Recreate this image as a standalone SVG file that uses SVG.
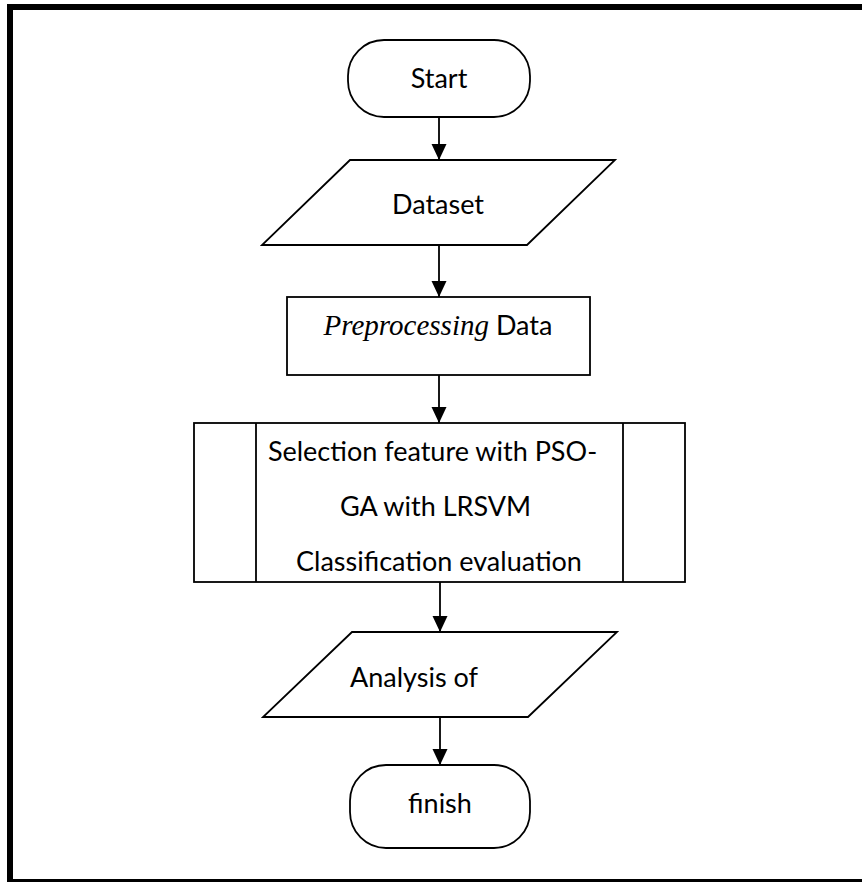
<svg xmlns="http://www.w3.org/2000/svg" width="862" height="882" viewBox="0 0 862 882">
  <defs>
    <marker id="arrow" markerUnits="userSpaceOnUse" markerWidth="16" markerHeight="16" refX="16" refY="7.5" orient="auto">
      <path d="M0,0 L16,7.5 L0,15 Z" fill="#000"/>
    </marker>
    <style>
      .shape { fill: #fff; stroke: #000; stroke-width: 1.8; }
      .label { font-family: Lato, "Liberation Sans", sans-serif; font-size: 27px; fill: #000; }
      .serif { font-family: "Liberation Serif", serif; font-style: italic; }
      .edge { stroke: #000; stroke-width: 1.8; fill: none; marker-end: url(#arrow); }
    </style>
  </defs>
  <rect width="862" height="882" fill="#fff"/>
  <!-- page frame -->
  <rect x="10" y="7" width="860" height="875" fill="none" stroke="#000" stroke-width="6"/>

  <g id="connectors">
    <line class="edge" x1="439" y1="117" x2="439" y2="160"/>
    <line class="edge" x1="439" y1="245" x2="439" y2="297"/>
    <line class="edge" x1="439" y1="375" x2="439" y2="423"/>
    <line class="edge" x1="440" y1="582" x2="440" y2="632"/>
    <line class="edge" x1="440" y1="717" x2="440" y2="765"/>
  </g>

  <g id="start">
    <rect class="shape" x="348" y="40" width="182" height="77" rx="36" ry="36"/>
    <text class="label" x="439" y="88" text-anchor="middle">Start</text>
  </g>

  <g id="dataset">
    <polygon class="shape" points="350,160 615,160 527,245 262,245"/>
    <text class="label" x="438" y="214" text-anchor="middle">Dataset</text>
  </g>

  <g id="preprocessing">
    <rect class="shape" x="287" y="297" width="303" height="78"/>
    <text class="label" x="438" y="335" text-anchor="middle"><tspan class="serif" font-size="29">Preprocessing</tspan> Data</text>
  </g>

  <g id="selection">
    <rect class="shape" x="194" y="423" width="491" height="159"/>
    <line class="shape" x1="256" y1="423" x2="256" y2="582"/>
    <line class="shape" x1="623" y1="423" x2="623" y2="582"/>
    <text class="label" text-anchor="middle">
      <tspan x="436" y="461">Selection feature with PSO-</tspan>
      <tspan x="439" y="516">GA with LRSVM</tspan>
      <tspan x="439" y="571">Classification evaluation</tspan>
    </text>
  </g>

  <g id="analysis">
    <polygon class="shape" points="352,632 617,632 528,717 263,717"/>
    <text class="label" x="350" y="687">Analysis of</text>
  </g>

  <g id="finish">
    <rect class="shape" x="350" y="765" width="180" height="83" rx="36" ry="36"/>
    <text class="label" x="440" y="813" text-anchor="middle">finish</text>
  </g>
</svg>
